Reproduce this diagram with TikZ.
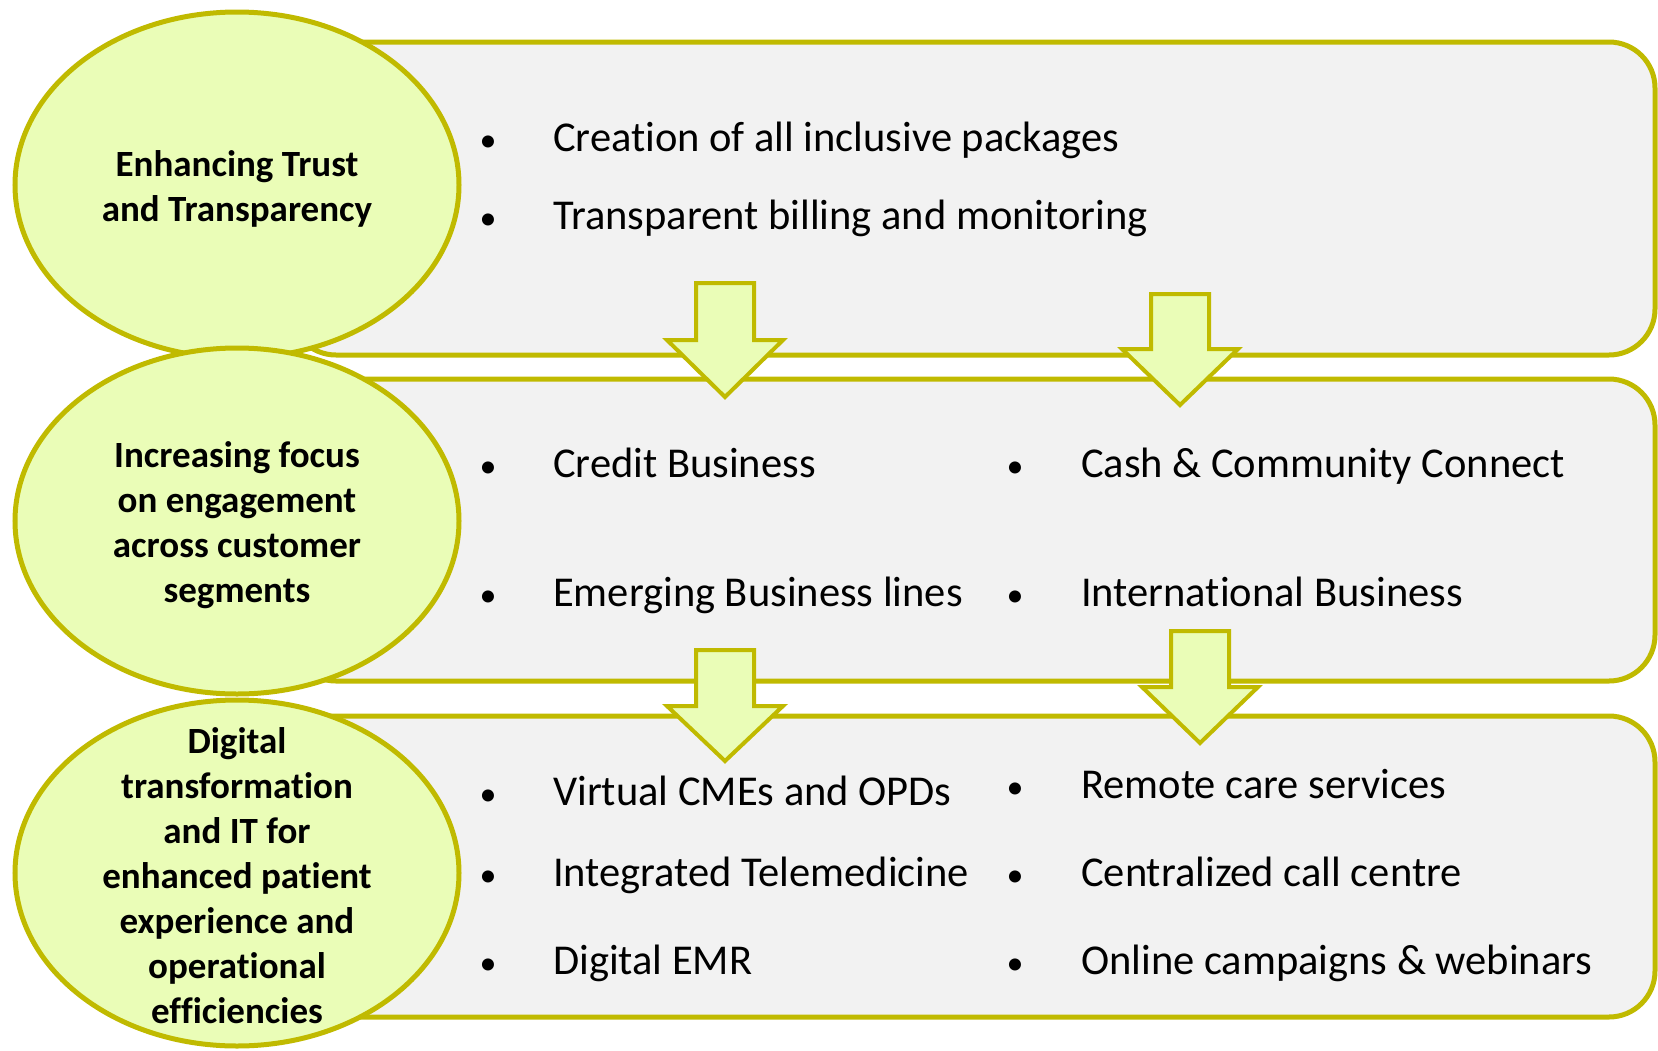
\documentclass[tikz,border=0pt]{standalone}
\usepackage{fontspec}
\setmainfont{Carlito}[Ligatures=NoCommon]
\definecolor{olive}{RGB}{192,186,0}
\definecolor{lime}{RGB}{234,253,183}
\definecolor{boxgray}{RGB}{242,242,242}
\usetikzlibrary{shapes.geometric}
\tikzset{
  stage/.style={draw=olive, line width=5pt, fill=boxgray, rounded corners=46pt},
  theme/.style={ellipse, draw=olive, line width=5pt, fill=lime, inner sep=0pt,
                minimum width=444pt, minimum height=346pt},
  themetext/.style={inner sep=0pt, align=center,
                font=\fontsize{37}{45}\selectfont\bfseries},
  blk/.style={draw=olive, line width=4pt, fill=lime, line join=miter},
  bul/.style={anchor=base, inner sep=0pt, font=\fontsize{34}{48}\selectfont},
  itm/.style={anchor=base west, inner sep=0pt, font=\fontsize{42.5}{48}\selectfont},
}
\newcommand{\blockarrow}[4]{%
  \draw[blk] (#1-29,#2) -- (#1+29,#2) -- (#1+29,#3) -- (#1+58,#3) -- (#1,#4)
     -- (#1-58,#3) -- (#1-29,#3) -- cycle;}
\begin{document}
\begin{tikzpicture}[x=1pt,y=-1pt]
\useasboundingbox (0,0) rectangle (1658,1050);
% stage boxes
\draw[stage] (290,42) rectangle (1655,355);
\draw[stage] (290,379) rectangle (1655,681);
\draw[stage] (290,716) rectangle (1655,1017);
% block arrows
\blockarrow{725}{283}{340}{397}
\blockarrow{1180}{294}{349}{405}
\blockarrow{725}{650}{706}{761}
\blockarrow{1200}{631}{687}{743}
% themes
\node[theme] (t1) at (237,185) {};
\node[themetext] (t1x) at ([yshift=-4pt]t1.center) {Enhancing Trust\\and Transparency};
\node[theme] (t2) at (237,521) {};
\node[themetext] (t2x) at ([yshift=-4pt]t2.center) {Increasing focus\\on engagement\\across customer\\segments};
\node[theme] (t3) at (237,873) {};
\node[themetext] (t3x) at ([yshift=-3pt]t3.center) {Digital\\transformation\\and IT for\\enhanced patient\\experience and\\operational\\efficiencies};
% box 1 items
\node[bul] (b11) at (488,151) {•};
\node[itm] (i11) at (553,151) {Creation of all inclusive packages};
\node[bul] (b12) at (488,229) {•};
\node[itm] (i12) at (553,229) {Transparent billing and monitoring};
% box 2 items
\node[bul] (b21) at (488,477) {•};
\node[itm] (i21) at (553,477) {Credit Business};
\node[bul] (b22) at (1015,477) {•};
\node[itm] (i22) at (1081,477) {Cash \& Community Connect};
\node[bul] (b23) at (488,606) {•};
\node[itm] (i23) at (553,606) {Emerging Business lines};
\node[bul] (b24) at (1015,606) {•};
\node[itm] (i24) at (1081,606) {International Business};
% box 3 items
\node[bul] (b31) at (488,805) {•};
\node[itm] (i31) at (553,805) {Virtual CMEs and OPDs};
\node[bul] (b32) at (1015,798) {•};
\node[itm] (i32) at (1081,798) {Remote care services};
\node[bul] (b33) at (488,886) {•};
\node[itm] (i33) at (553,886) {Integrated Telemedicine};
\node[bul] (b34) at (1015,886) {•};
\node[itm] (i34) at (1081,886) {Centralized call centre};
\node[bul] (b35) at (488,974) {•};
\node[itm] (i35) at (553,974) {Digital EMR};
\node[bul] (b36) at (1015,974) {•};
\node[itm] (i36) at (1081,974) {Online campaigns \& webinars};
\end{tikzpicture}
\end{document}
